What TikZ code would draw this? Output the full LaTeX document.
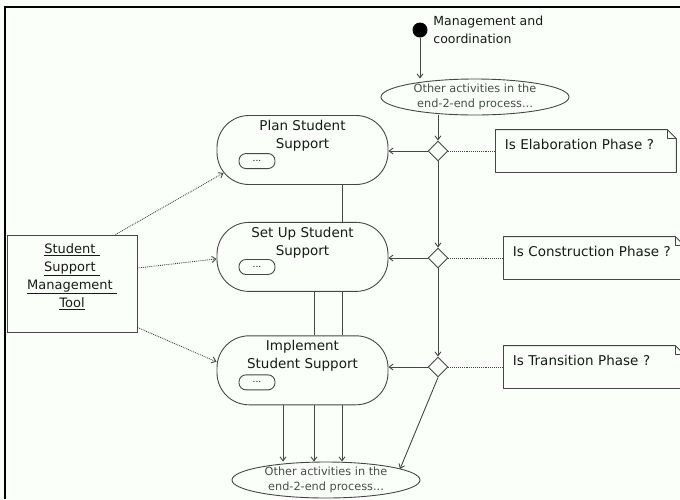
\documentclass[tikz,border=0pt]{standalone}
\usepackage{fontspec}
\setmainfont{DejaVu Sans}
\usepackage{tikz}
\usetikzlibrary{shapes.geometric, arrows.meta, positioning, calc}
\definecolor{paper}{RGB}{251, 255, 250}
\definecolor{linegray}{RGB}{70, 70, 70}
\definecolor{textgray}{RGB}{75, 75, 75}

\begin{document}
\begin{tikzpicture}[
    x=1pt, y=-1pt, line width=0.9pt,
    activity/.style={draw=linegray, rounded corners=32pt, minimum width=171pt, minimum height=69pt, inner sep=0pt},
    acttext/.style={align=center, inner sep=0pt, text=black!90, font=\fontsize{13.5}{18}\selectfont},
    minibox/.style={draw=linegray, rounded corners=7pt, minimum width=36pt, minimum height=15pt, inner sep=0pt, font=\fontsize{9}{10}\selectfont},
    otheract/.style={ellipse, draw=linegray, minimum width=188pt, minimum height=36pt, inner xsep=0pt, inner ysep=-3pt, align=center, text=textgray, font=\fontsize{11.3}{15}\selectfont},
    decision/.style={diamond, draw=linegray, minimum size=20pt, inner sep=0pt},
    note/.style={text width=162pt, align=left, inner xsep=9pt, inner ysep=4pt, text height=15pt, text depth=19pt, text=black!90, font=\fontsize{13.5}{18}\selectfont},
    notebox/.style={draw=linegray, line join=round},
    tool/.style={draw=linegray, minimum width=130pt, minimum height=97pt, align=center, text depth=16pt, text=black!90, font=\fontsize{13}{18}\selectfont},
    arrow/.style={-{Straight Barb[length=4pt, width=6pt]}, draw=linegray},
    dotarrow/.style={arrow, densely dotted}
]
    \clip (0,0) rectangle (680,499);
    \fill[paper] (0,0) rectangle (680,499);
    \draw[black, line width=2.5pt] (5,499) |- (680,7);

    \node[circle, fill=black, minimum size=15pt, inner sep=0pt] (start) at (420,30) {};
    \node[right=5pt of start, inner sep=0pt, align=left, text=black!90, font=\fontsize{12.5}{18}\selectfont] (mgmt) {Management and\\coordination};
    \node[otheract] (topact) at (475,97) {Other activities in the\\end-2-end process...};

    \node[activity] (plan) at (302.5,150) {};
    \node[activity, below=37pt of plan] (setup) {};
    \node[activity, below=43.5pt of setup] (impl) {};
    \node[acttext] (plantxt) at ([yshift=-20.5pt]plan.north) {Plan Student\\Support};
    \node[acttext] (setuptxt) at ([yshift=-20.5pt]setup.north) {Set Up Student\\Support};
    \node[acttext] (impltxt) at ([yshift=-20pt]impl.north) {Implement\\Student Support};
    \node[minibox] (planmini) at ([shift={(-45.5pt,-46pt)}]plan.north) {...};
    \node[minibox] (setupmini) at ([shift={(-45.5pt,-45pt)}]setup.north) {...};
    \node[minibox] (implmini) at ([shift={(-45.5pt,-47pt)}]impl.north) {...};

    \node[decision] (d1) at (438,151) {};
    \node[decision] (d2) at (438,258) {};
    \node[decision] (d3) at (438,367) {};
    \node[note, right=47pt of d1] (elab) {Is Elaboration Phase ?};
    \node[note, right=55pt of d2] (constr) {Is Construction Phase ?};
    \node[note, right=55pt of d3] (trans) {Is Transition Phase ?};
    \foreach \n in {elab, constr, trans} {
        \draw[notebox] (\n.south west) -- (\n.north west) -- ([xshift=-9pt]\n.north east) -- ([yshift=-9pt]\n.north east) -- (\n.south east) -- cycle;
        \draw[notebox] ([xshift=-9pt]\n.north east) |- ([yshift=-9pt]\n.north east);
    }

    \node[otheract] (botact) at (326,480) {Other activities in the\\end-2-end process...};
    \node[tool] (tool) at (72,283.5) {\underline{Student\ }\\\underline{Support\ }\\\underline{Management\ }\\\underline{Tool}};

    \draw[arrow] (start) -- (start |- topact.north);
    \draw[arrow] (topact.south -| d1) -- (d1.north);
    \draw[arrow] (d1) -- (d2);
    \draw[arrow] (d2) -- (d3);
    \draw[arrow] (d3.south) -- ([shift={(74pt,11pt)}]botact.center);
    \draw[arrow] (d1.west) -- (d1.west -| plan.east);
    \draw[arrow] (d2.west) -- (d2.west -| setup.east);
    \draw[arrow] (d3.west) -- (d3.west -| impl.east);
    \draw[linegray, densely dotted] (d1.east) -- (elab.west);
    \draw[linegray, densely dotted] (d2.east) -- (constr.west);
    \draw[linegray, densely dotted] (d3.east) -- (trans.west);

    \draw[linegray] ([xshift=39.5pt]plan.south) -- ([xshift=39.5pt]setup.north);
    \foreach \dx in {11.5, 39.5}
        \draw[linegray] ([xshift=\dx pt]setup.south) -- ([xshift=\dx pt]impl.north);
    \foreach \dx in {-19.5, 11.5, 39.5}
        \draw[arrow] ([xshift=\dx pt]impl.south) -- ([xshift=\dx pt]impl.south |- botact.north);

    \draw[dotarrow] ([xshift=-22pt]tool.north east) -- ([shift={(7pt,12pt)}]plan.south west);
    \draw[dotarrow] ([yshift=15.5pt]tool.east) -- ([yshift=-2pt]setup.west);
    \draw[dotarrow] ([yshift=5pt]tool.south east) -- ([yshift=8.5pt]impl.west);
\end{tikzpicture}
\end{document}
